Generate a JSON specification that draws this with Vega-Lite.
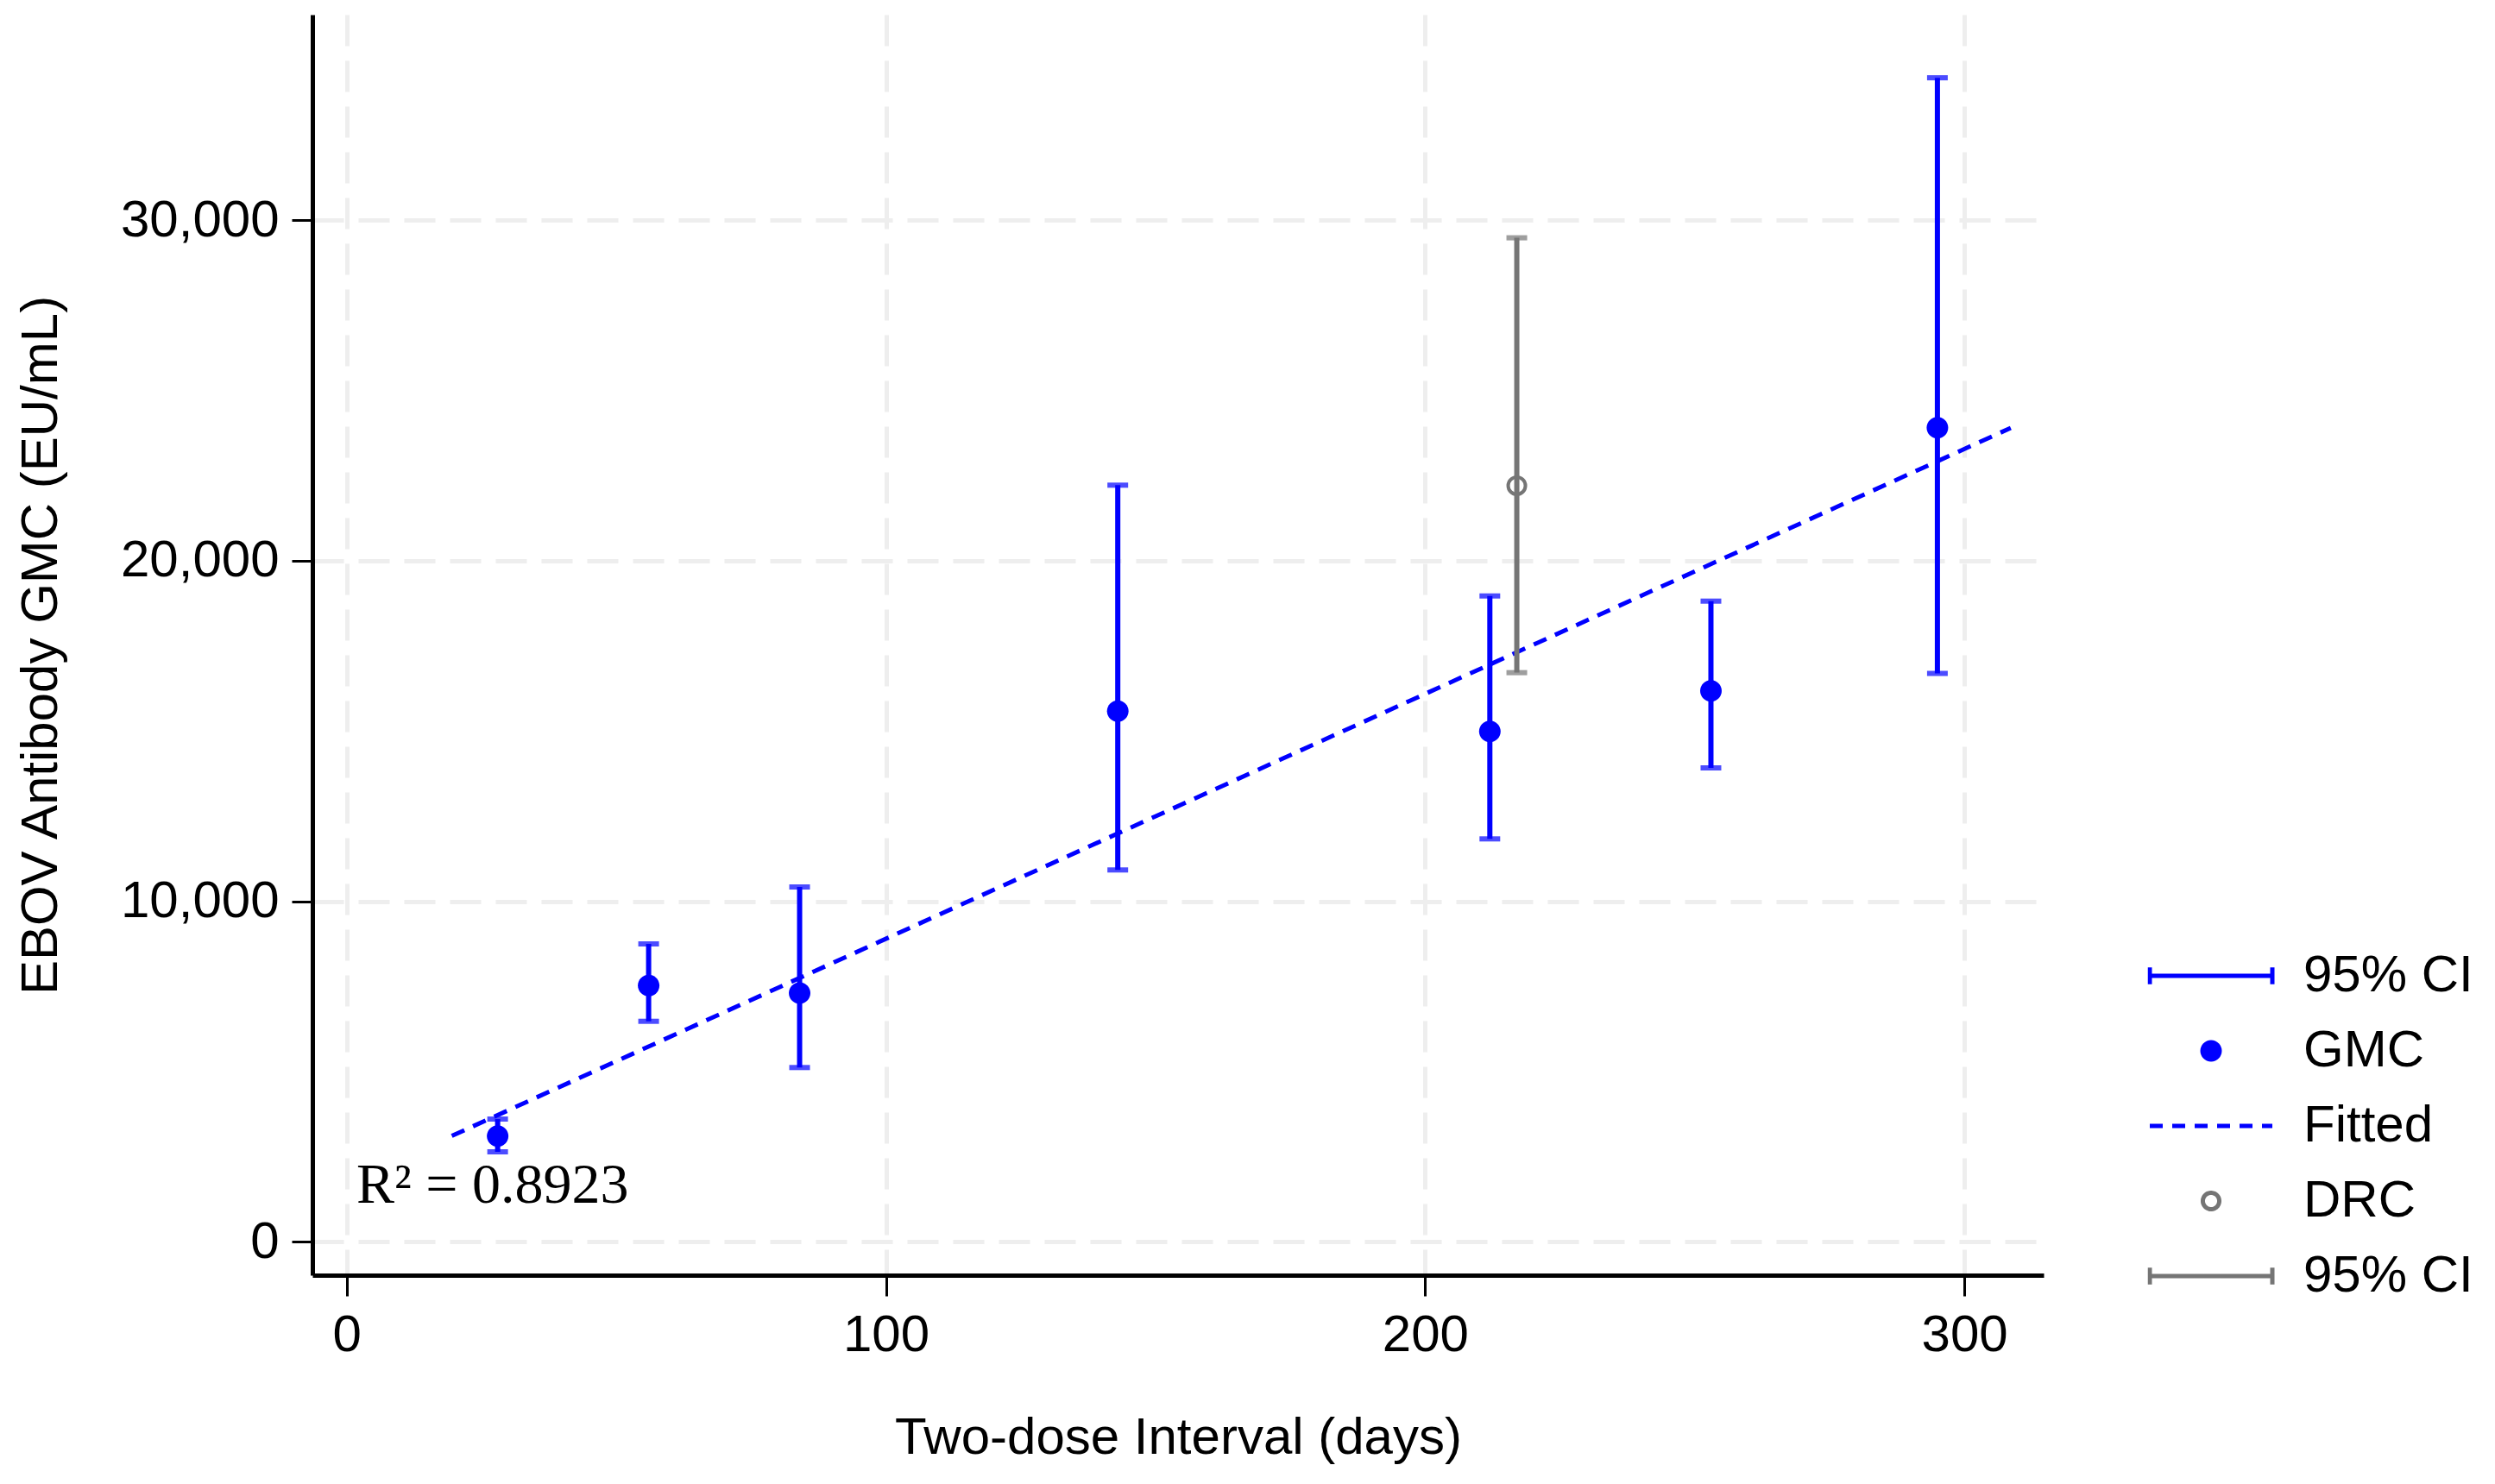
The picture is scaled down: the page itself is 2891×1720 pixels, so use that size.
{
  "$schema": "https://vega.github.io/schema/vega-lite/v6.json",
  "autosize": {"type": "none"},
  "width": 2006,
  "height": 1461,
  "padding": {"left": 362, "top": 17, "right": 523, "bottom": 242},
  "background": "#ffffff",
  "datasets": {
    "pts": [
      {"day": 28, "gmc": 3106, "lo": 2643, "hi": 3605, "series": "GMC"},
      {"day": 56, "gmc": 7525, "lo": 6476, "hi": 8748, "series": "GMC"},
      {"day": 84, "gmc": 7304, "lo": 5118, "hi": 10420, "series": "GMC"},
      {"day": 143, "gmc": 15581, "lo": 10920, "hi": 22219, "series": "GMC"},
      {"day": 212, "gmc": 14986, "lo": 11832, "hi": 18966, "series": "GMC"},
      {"day": 253, "gmc": 16179, "lo": 13917, "hi": 18814, "series": "GMC"},
      {"day": 295, "gmc": 23907, "lo": 16691, "hi": 34182, "series": "GMC"}
    ],
    "drc": [
      {"day": 217, "gmc": 22204, "lo": 16714, "hi": 29483, "series": "DRC"}
    ],
    "fit": [
      {"day": 19.5, "fit": 3110},
      {"day": 308.6, "fit": 23900}
    ],
    "ann": [
      {"day": 1.8, "gmc": 1148, "label": "R² = 0.8923"}
    ]
  },
  "layer": [
    {
      "data": {"name": "pts"},
      "mark": {"type": "errorbar", "color": "#0000ff", "thickness": 6, "size": 24, "ticks": true},
      "encoding": {
        "x": {"field": "day", "type": "quantitative", "scale": {"domain": [-6.35, 314.7], "nice": false, "zero": false},
          "axis": {"values": [0, 100, 200, 300], "title": "Two-dose Interval (days)"}},
        "y": {"field": "lo", "type": "quantitative", "scale": {"domain": [-980, 36035], "nice": false, "zero": false},
          "axis": {"values": [0, 10000, 20000, 30000], "format": ",.0f", "title": "EBOV Antibody GMC (EU/mL)"}},
        "y2": {"field": "hi"}
      }
    },
    {
      "data": {"name": "pts"},
      "mark": {"type": "point", "size": 20164, "opacity": 1, "strokeWidth": 5},
      "encoding": {
        "x": {"field": "day", "type": "quantitative", "scale": {"domain": [-6.35, 314.7], "nice": false, "zero": false},
          "axis": {"values": [0, 100, 200, 300], "title": "Two-dose Interval (days)"}},
        "y": {"field": "gmc", "type": "quantitative", "scale": {"domain": [-980, 36035], "nice": false, "zero": false},
          "axis": {"values": [0, 10000, 20000, 30000], "format": ",.0f", "title": "EBOV Antibody GMC (EU/mL)"}},
        "fill": {
          "field": "series", "type": "nominal",
          "scale": {"domain": ["95% CI", "GMC", "Fitted", "DRC", "95% CI "], "range": ["transparent", "#0000ff", "transparent", "transparent", "transparent"]},
          "legend": {"title": null, "orient": "none", "legendX": 2126.5, "legendY": 1084, "padding": 0, "symbolSize": 20164, "symbolStrokeWidth": 5, "clipHeight": 60, "rowPadding": 27, "labelOffset": 33.5, "labelFont": "Liberation Sans", "labelFontSize": 60, "labelColor": "#000000", "labelLimit": 1000}
        },
        "stroke": {
          "field": "series", "type": "nominal",
          "scale": {"domain": ["95% CI", "GMC", "Fitted", "DRC", "95% CI "], "range": ["#0000ff", "transparent", "#0000ff", "#757575", "#757575"]},
          "legend": {"title": null, "orient": "none", "legendX": 2126.5, "legendY": 1084, "padding": 0, "symbolSize": 20164, "symbolStrokeWidth": 5, "clipHeight": 60, "rowPadding": 27, "labelOffset": 33.5, "labelFont": "Liberation Sans", "labelFontSize": 60, "labelColor": "#000000", "labelLimit": 1000}
        },
        "shape": {
          "field": "series", "type": "nominal",
          "scale": {"domain": ["95% CI", "GMC", "Fitted", "DRC", "95% CI "], "range": [
            "M-1,-0.136L-1,0.136M-1,0L1,0M1,-0.136L1,0.136",
            "M0.176,0A0.176,0.176,0,1,1,-0.176,0A0.176,0.176,0,1,1,0.176,0Z",
            "M-1,0L1,0",
            "M0.134,0A0.134,0.134,0,1,1,-0.134,0A0.134,0.134,0,1,1,0.134,0Z",
            "M-1,-0.136L-1,0.136M-1,0L1,0M1,-0.136L1,0.136"
          ]},
          "legend": {"title": null, "orient": "none", "legendX": 2126.5, "legendY": 1084, "padding": 0, "symbolSize": 20164, "symbolStrokeWidth": 5, "clipHeight": 60, "rowPadding": 27, "labelOffset": 33.5, "labelFont": "Liberation Sans", "labelFontSize": 60, "labelColor": "#000000", "labelLimit": 1000}
        },
        "strokeDash": {
          "field": "series", "type": "nominal",
          "scale": {"domain": ["95% CI", "GMC", "Fitted", "DRC", "95% CI "], "range": [[1, 0], [1, 0], [15, 11], [1, 0], [1, 0]]},
          "legend": {"title": null, "orient": "none", "legendX": 2126.5, "legendY": 1084, "padding": 0, "symbolSize": 20164, "symbolStrokeWidth": 5, "clipHeight": 60, "rowPadding": 27, "labelOffset": 33.5, "labelFont": "Liberation Sans", "labelFontSize": 60, "labelColor": "#000000", "labelLimit": 1000}
        }
      }
    },
    {
      "data": {"name": "fit"},
      "mark": {"type": "line", "color": "#0000ff", "strokeWidth": 5, "strokeDash": [16, 11]},
      "encoding": {
        "x": {"field": "day", "type": "quantitative", "scale": {"domain": [-6.35, 314.7], "nice": false, "zero": false},
          "axis": {"values": [0, 100, 200, 300], "title": "Two-dose Interval (days)"}},
        "y": {"field": "fit", "type": "quantitative", "scale": {"domain": [-980, 36035], "nice": false, "zero": false},
          "axis": {"values": [0, 10000, 20000, 30000], "format": ",.0f", "title": "EBOV Antibody GMC (EU/mL)"}}
      }
    },
    {
      "data": {"name": "drc"},
      "mark": {"type": "point", "filled": false, "size": 400, "opacity": 1, "strokeWidth": 4, "color": "#757575"},
      "encoding": {
        "x": {"field": "day", "type": "quantitative", "scale": {"domain": [-6.35, 314.7], "nice": false, "zero": false},
          "axis": {"values": [0, 100, 200, 300], "title": "Two-dose Interval (days)"}},
        "y": {"field": "gmc", "type": "quantitative", "scale": {"domain": [-980, 36035], "nice": false, "zero": false},
          "axis": {"values": [0, 10000, 20000, 30000], "format": ",.0f", "title": "EBOV Antibody GMC (EU/mL)"}}
      }
    },
    {
      "data": {"name": "drc"},
      "mark": {"type": "errorbar", "color": "#757575", "thickness": 6, "size": 24, "ticks": true},
      "encoding": {
        "x": {"field": "day", "type": "quantitative", "scale": {"domain": [-6.35, 314.7], "nice": false, "zero": false},
          "axis": {"values": [0, 100, 200, 300], "title": "Two-dose Interval (days)"}},
        "y": {"field": "lo", "type": "quantitative", "scale": {"domain": [-980, 36035], "nice": false, "zero": false},
          "axis": {"values": [0, 10000, 20000, 30000], "format": ",.0f", "title": "EBOV Antibody GMC (EU/mL)"}},
        "y2": {"field": "hi"}
      }
    },
    {
      "data": {"name": "ann"},
      "mark": {"type": "text", "align": "left", "baseline": "alphabetic", "font": "Liberation Serif", "fontSize": 66, "color": "#000000"},
      "encoding": {
        "x": {"field": "day", "type": "quantitative", "scale": {"domain": [-6.35, 314.7], "nice": false, "zero": false},
          "axis": {"values": [0, 100, 200, 300], "title": "Two-dose Interval (days)"}},
        "y": {"field": "gmc", "type": "quantitative", "scale": {"domain": [-980, 36035], "nice": false, "zero": false},
          "axis": {"values": [0, 10000, 20000, 30000], "format": ",.0f", "title": "EBOV Antibody GMC (EU/mL)"}},
        "text": {"field": "label"}
      }
    }
  ],
  "config": {
    "view": {"stroke": null},
    "axis": {
      "grid": true, "gridColor": "#eeeeee", "gridWidth": 5, "gridDash": [36, 17],
      "domainColor": "#000000", "domainWidth": 5,
      "tickColor": "#000000", "tickWidth": 3, "tickSize": 24,
      "labelFont": "Liberation Sans", "labelFontSize": 60, "labelColor": "#000000", "labelLimit": 500,
      "titleFont": "Liberation Sans", "titleFontSize": 60, "titleFontWeight": "normal", "titleColor": "#000000"
    },
    "axisX": {"labelPadding": 16, "titlePadding": 60},
    "axisY": {"labelPadding": 15, "titlePadding": 84}
  }
}
